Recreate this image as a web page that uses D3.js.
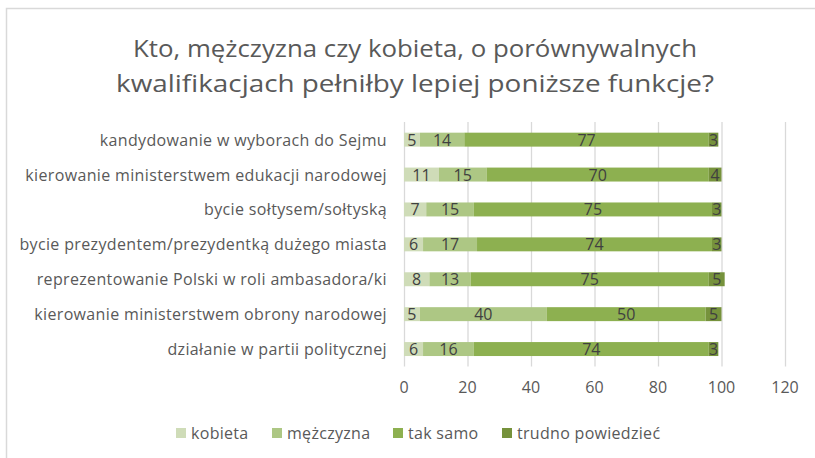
<!DOCTYPE html>
<html><head><meta charset="utf-8">
<script src="https://cdn.jsdelivr.net/npm/d3@7"></script>
<style>body{margin:0;background:#fff}svg{display:block}text{font-family:"Open Sans",sans-serif}</style>
</head><body>
<svg id="c" width="815" height="458"></svg>
<script>
const categories = [
  "kandydowanie w wyborach do Sejmu",
  "kierowanie ministerstwem edukacji narodowej",
  "bycie sołtysem/sołtyską",
  "bycie prezydentem/prezydentką dużego miasta",
  "reprezentowanie Polski w roli ambasadora/ki",
  "kierowanie ministerstwem obrony narodowej",
  "działanie w partii politycznej"
];
const seriesNames = ["kobieta", "mężczyzna", "tak samo", "trudno powiedzieć"];
const kobieta   = [5, 11, 7, 6, 8, 5, 6];
const mezczyzna = [14, 15, 15, 17, 13, 40, 16];
const takSamo   = [77, 70, 75, 74, 75, 50, 74];
const trudno    = [3, 4, 3, 3, 5, 5, 3];
const colors = ["#cfdcb8", "#adc784", "#8db050", "#76923c"];
const xTicks = [0, 20, 40, 60, 80, 100, 120];
const titleLines = ["Kto, mężczyzna czy kobieta, o porównywalnych", "kwalifikacjach pełniłby lepiej poniższe funkcje?"];

const svg = d3.select("#c");
svg.append("rect").attr("x", 6.5).attr("y", 8.5).attr("width", 830).attr("height", 470)
  .attr("fill", "none").attr("stroke", "#d9d9d9").attr("stroke-width", 1.5);

svg.append("g").selectAll("text").data(titleLines).join("text")
  .attr("x", 415).attr("y", (d, i) => 57 + i * 35)
  .attr("text-anchor", "middle").attr("font-size", 24).attr("fill", "#595959")
  .attr("textLength", (d, i) => [564, 598][i]).attr("lengthAdjust", "spacingAndGlyphs")
  .text(d => d);

const x = d3.scaleLinear().domain([0, 120]).range([404, 785]);
const y = d3.scaleBand().domain(categories).range([122.2, 366.5]).paddingInner(0.6).paddingOuter(0.3);

svg.append("g").selectAll("line").data(xTicks).join("line")
  .attr("x1", d => x(d) + 0.5).attr("x2", d => x(d) + 0.5)
  .attr("y1", 122).attr("y2", 366.5).attr("stroke", "#d9d9d9").attr("stroke-width", 1.3);

const seriesVals = [kobieta, mezczyzna, takSamo, trudno];
const rows = categories.map((c, i) => {
  const o = { cat: c };
  seriesNames.forEach((s, j) => o[s] = seriesVals[j][i]);
  return o;
});
const stacked = d3.stack().keys(seriesNames)(rows);

const g = svg.append("g");
stacked.forEach((layer, j) => {
  g.append("g").selectAll("rect").data(layer).join("rect")
    .attr("x", d => x(d[0])).attr("width", d => x(d[1]) - x(d[0]))
    .attr("y", d => y(d.data.cat)).attr("height", y.bandwidth())
    .attr("fill", colors[j]);
});
stacked.forEach((layer, j) => {
  g.append("g").selectAll("text").data(layer).join("text")
    .attr("x", d => (x(d[0]) + x(d[1])) / 2)
    .attr("y", d => y(d.data.cat) + y.bandwidth() / 2 + 6)
    .attr("text-anchor", "middle").attr("font-size", 16).attr("fill", "#404040")
    .text(d => d[1] - d[0]);
});

svg.append("g").selectAll("text").data(categories).join("text")
  .attr("x", 387).attr("y", d => y(d) + y.bandwidth() / 2 + 6)
  .attr("text-anchor", "end").attr("font-size", 16).attr("letter-spacing", 0.35)
  .attr("fill", "#595959").text(d => d);

svg.append("g").selectAll("text").data(xTicks).join("text")
  .attr("x", d => x(d)).attr("y", 393)
  .attr("text-anchor", "middle").attr("font-size", 16).attr("fill", "#595959").text(d => d);

const legX = [176, 272, 393, 502];
const lg = svg.append("g").selectAll("g").data(seriesNames).join("g")
  .attr("transform", (d, i) => `translate(${legX[i]},428)`);
lg.append("rect").attr("width", 10).attr("height", 10).attr("fill", (d, i) => colors[i]);
lg.append("text").attr("x", 15).attr("y", 11).attr("font-size", 16).attr("letter-spacing", 0.3)
  .attr("fill", "#595959").text(d => d);
</script>
</body></html>
